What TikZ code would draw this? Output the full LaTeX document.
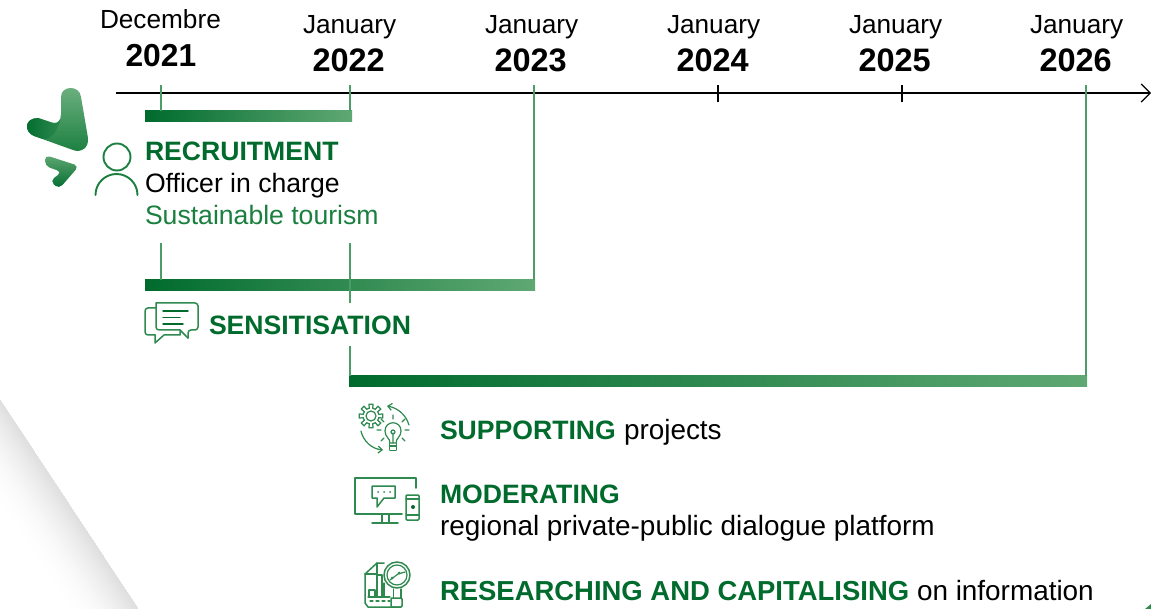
\documentclass[tikz,border=0pt]{standalone}
\usepackage{fontspec}
\setmainfont{Liberation Sans}
\usetikzlibrary{arrows.meta}
\definecolor{gdark}{HTML}{006B2D}
\definecolor{gmid}{HTML}{1A7F3F}
\definecolor{glight}{HTML}{5FA873}
\definecolor{gicon}{HTML}{2F8A50}
\definecolor{gline}{HTML}{4C9C66}
\tikzset{
  lbl/.style={anchor=base west,inner sep=0pt,outer sep=0pt},
  mon/.style={lbl,font=\fontsize{26.2}{30}\selectfont,text=black},
  yr/.style={lbl,font=\fontsize{32.5}{36}\selectfont\bfseries,text=black},
  head/.style={lbl,font=\fontsize{26.6}{32}\selectfont\bfseries,text=gdark},
  body/.style={lbl,font=\fontsize{26.6}{32}\selectfont,text=black},
  lowbody/.style={lbl,font=\fontsize{27.9}{32}\selectfont,text=black},
  barnode/.style={anchor=north west,inner sep=0pt,outer sep=0pt,minimum height=11pt,left color=gdark,right color=glight,draw=none},
  gtick/.style={draw=gline,line width=2pt},
  ktick/.style={draw=black,line width=1.2pt},
  ico/.style={draw=gicon,line width=1.5pt,line join=round,line cap=round},
  thin ico/.style={ico,line width=1.2pt},
}
\begin{document}
\begin{tikzpicture}[x=1pt,y=-1pt]
\clip (0,0) rectangle (1151,609);
\fill[white] (0,0) rectangle (1151,609);
% soft diagonal shadow
\foreach \i in {30,29,...,0}{
  \pgfmathsetmacro{\sh}{13*(1-\i/30)*(1-\i/30)}
  \fill[black!\sh!white] (0,400) -- (138,609) -- ({138-2.5*\i},609) -- ({0},{400+3.8*\i}) -- cycle;
}
% corner mark
\fill[gicon] (1145,609) -- (1151,604) -- (1151,609) -- cycle;
% logo
\shade[top color=glight!90!white,bottom color=gmid]
  (61,97) .. controls (61,85) and (80,85) .. (81,97) -- (88,138)
  .. controls (89,148) and (81,153) .. (73,150) -- (34,136)
  .. controls (24,132) and (24,118) .. (38,118) -- (53,123)
  .. controls (58,124) and (61,120) .. (61,115) -- cycle;
\shade[left color=gdark,right color=gicon]
  (34,136) .. controls (24,132) and (24,118) .. (38,118) -- (53,123)
  .. controls (58,124) and (61,120) .. (61,115)
  .. controls (60,128) and (52,140) .. (43,139) -- cycle;
\shade[top color=glight,bottom color=gdark,rounded corners=5pt]
  (45,155) -- (79,166) -- (59,189) -- (50,181) -- (62,172) -- (45,166) -- cycle;
% person icon
\draw[ico,draw=gmid,line width=1.9pt] (117,157) circle[radius=13.5pt];
\draw[ico,draw=gmid,line width=1.9pt] (95.5,195) arc[start angle=180,end angle=0,radius=21pt];
% axis
\coordinate (axL) at (116,93);
\coordinate (axR) at (1151,93);
\draw[draw=black,line width=1.2pt,-{Straight Barb[length=9pt,width=18pt,line width=1.2pt]}] (axL) -- (axR);
% bars
\node[barnode,minimum width=207pt] (bar1) at (145,111) {};
\node[barnode,minimum width=390pt] (bar2) at (145,280) {};
\node[barnode,minimum width=738pt] (bar3) at (349,376) {};
% ticks
\foreach \n/\x in {a/160.5,b/350,c/533.5,f/1085.5}{\coordinate (t\n) at (\x,85);}
\draw[gtick] (ta) -- (ta|-bar1.north);
\draw[gtick] (tb) -- (tb|-bar1.north);
\draw[gtick] (tc) -- (tc|-bar2.north);
\draw[gtick] (tf) -- (tf|-bar3.north);
\coordinate (td) at (718,85); \coordinate (tdb) at (718,102);
\coordinate (te) at (902,85); \coordinate (teb) at (902,102);
\draw[ktick] (td) -- (tdb);
\draw[ktick] (te) -- (teb);
\coordinate (ua) at (160.5,243);
\coordinate (ub) at (349.5,243);
\coordinate (ubb) at (349.5,303);
\coordinate (uc) at (349.5,346);
\draw[gtick] (ua) -- (ua|-bar2.north);
\draw[gtick] (ub) -- (ubb);
\draw[gtick] (uc) -- (uc|-bar3.north);
% dates
\node[mon] (m0) at (100,29) {Decembre};
\node[yr,font=\fontsize{31.8}{36}\selectfont\bfseries]  (y0) at (125.5,66.5) {2021};
\foreach \n/\mx/\yx/\yt in {1/303/312.5/2022,2/485/494.5/2023,3/667/676.5/2024,4/849/858.5/2025,5/1030/1039.5/2026}{
  \node[mon] (m\n) at (\mx,33.5) {January};
  \node[yr]  (y\n) at (\yx,72) {\yt};
}
% texts
\node[head] (rec) at (145,161) {RECRUITMENT};
\node[body] (off) at (145,193) {Officer in charge};
\node[body,text=gmid] (sus) at (145,224.5) {Sustainable tourism};
\node[head] (sen) at (209,335) {SENSITISATION};
\node[head] (sup) at (440,439) {SUPPORTING};
\node[lowbody] (supb) at (624,439) {projects};
\node[head] (mod) at (440,503) {MODERATING};
\node[lowbody] (reg) at (440,535) {regional private-public dialogue platform};
\node[head,font=\fontsize{27.45}{32}\selectfont\bfseries] (res) at (440,600) {RESEARCHING AND CAPITALISING};
\node[lowbody] (resb) at (917,600) {on information};
% speech icon
\draw[ico,rounded corners=3pt] (156,303) -- (198,303) -- (198,330) -- (188,330) -- (188,338);
\draw[ico] (188,338) -- (180,330);
\draw[ico,rounded corners=3pt] (180,330) -- (156,330) -- (156,303);
\draw[ico,rounded corners=3pt] (156,308) -- (145,308) -- (145,335) -- (155,335);
\draw[ico] (155,335) -- (155,343) -- (164,335) -- (180,335) -- (180,331);
\draw[ico,draw=gdark] (163,311) -- (188,311);
\draw[ico,draw=gdark] (163,317.5) -- (180,317.5);
\draw[ico,draw=gdark] (163,324) -- (183,324);
% gear and bulb icon
\begin{scope}[shift={(371,416)}]
\foreach \a in {0,45,...,315}{
  \draw[thin ico] ({8*cos(\a-12)},{8*sin(\a-12)}) -- ({12*cos(\a-10)},{12*sin(\a-10)}) -- ({12*cos(\a+10)},{12*sin(\a+10)}) -- ({8*cos(\a+12)},{8*sin(\a+12)});
}
\foreach \a in {22.5,67.5,...,337.5}{
  \draw[thin ico] ({8*cos(\a-11)},{8*sin(\a-11)}) -- ({8*cos(\a+11)},{8*sin(\a+11)});
}
\draw[thin ico] (0,0) circle[radius=5pt];
\end{scope}
\draw[thin ico,{Straight Barb[length=4pt,width=7pt]}-] (387,406) .. controls (398,408) and (406,415) .. (409,425);
\draw[thin ico,-{Straight Barb[length=4pt,width=7pt]}] (361,431) .. controls (363,441) and (372,449) .. (383,450);
\draw[thin ico] (390,443) .. controls (390,438) and (385,437) .. (385,431) .. controls (385,420) and (401,420) .. (401,431) .. controls (401,437) and (396,438) .. (396,443) -- cycle;
\draw[thin ico] (389.5,446) -- (396.5,446) (390.5,450.5) -- (395.5,450.5) (389.5,443) -- (389.5,450) (396.5,443) -- (396.5,450);
\draw[thin ico] (393,443) -- (393,433) (393,432) circle[radius=2pt];
\draw[thin ico] (393,419) -- (393,415) (384,422) -- (381,419) (402,422) -- (405,419) (381,430) -- (377,430) (405,430) -- (409,430) (384,438) -- (381,441) (402,438) -- (405,441);
% monitor icon
\draw[ico] (416,488) -- (416,478) -- (355,478) -- (355,514) -- (402,514);
\draw[ico] (382,514) -- (382,523) (389,514) -- (389,523) (372,523) -- (398,523);
\draw[ico] (372,486) -- (395,486) -- (395,498) -- (384,498) -- (377,507) -- (377,498) -- (372,498) -- cycle;
\foreach \u in {378,384,390}{\fill[gicon] (\u,492) circle[radius=1pt];}
\draw[ico,rounded corners=1pt] (406,495) rectangle (419,520);
\draw[thin ico] (406,499) -- (419,499) (406,515) -- (419,515);
\fill[gdark] (413,507) circle[radius=2pt];
% research icon
\draw[ico] (384,563) -- (377,563) -- (365,574) -- (365,603) -- (368,607) -- (400,607);
\draw[ico] (377,563) -- (377,574) -- (365,574);
\draw[ico] (397,575) circle[radius=13pt];
\draw[thin ico] (397,575) circle[radius=10pt];
\draw[ico] (393.5,589) -- (393.5,598) (401,589) -- (401,598);
\draw[ico,rounded corners=1pt] (391,598) rectangle (402,607);
\draw[thin ico] (369,597) -- (369,590) -- (375,590) -- (375,597) (377,597) -- (377,575) -- (382,575) -- (382,597) (384,597) -- (384,583);
\draw[thin ico] (368,597) -- (390,597);
\draw[thin ico,dashed] (370,601) -- (390,601);
\draw[thin ico] (390,580) -- (398,574) -- (405,572);
\fill[gicon] (392,578) circle[radius=1.5pt] (399,573) circle[radius=1.5pt];
\end{tikzpicture}
\end{document}
